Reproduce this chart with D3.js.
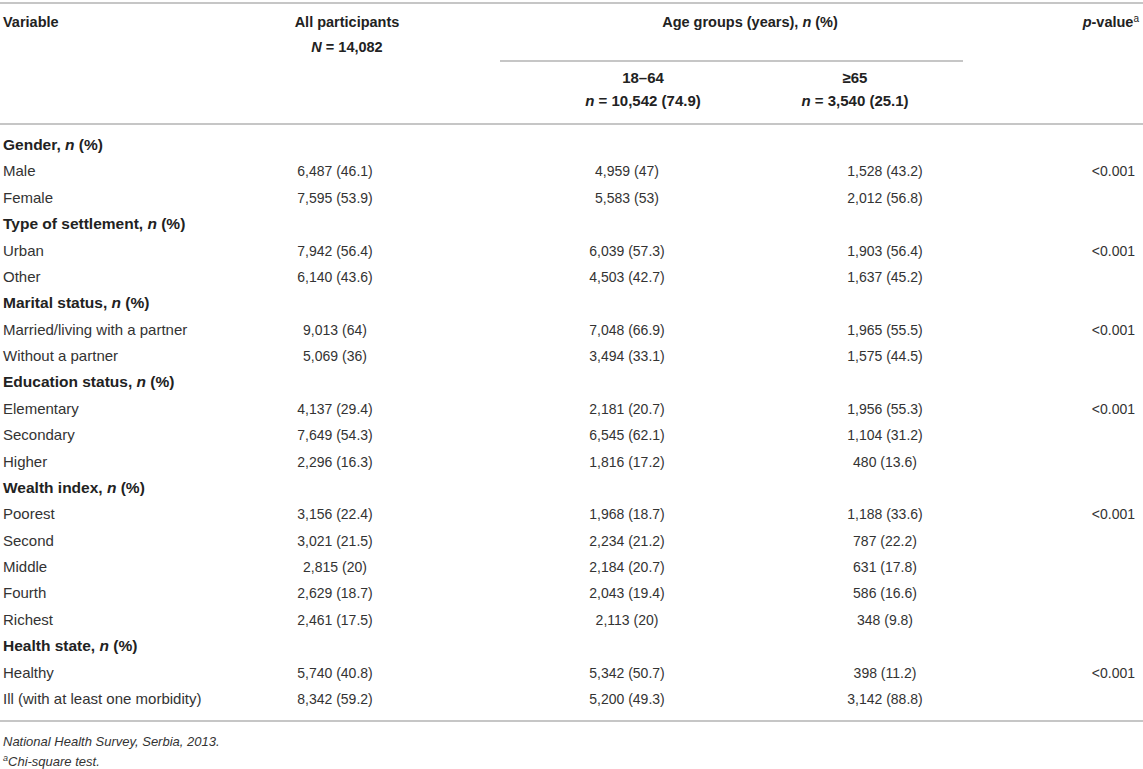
<!DOCTYPE html>
<html>
<head>
<meta charset="utf-8">
<script src="https://cdn.jsdelivr.net/npm/d3@7"></script>
<style>
  body { margin: 0; background: #fff; }
  svg { display: block; font-family: "Liberation Sans", Arial, Helvetica, sans-serif; }
  .rule { stroke: #b3b3b3; stroke-width: 1.5; }
  .head { font-weight: bold; fill: #222; font-size: 14.5px; }
  .sub { font-size: 15px; }
  .glab { font-weight: bold; fill: #222; font-size: 15.5px; }
  .lab { fill: #333; font-size: 15px; }
  .cell { fill: #333; font-size: 14px; }
  .note { fill: #333; font-size: 13px; font-style: italic; }
</style>
</head>
<body>
<div id="chart"></div>
<script>
// groups of variables and their categories
const groups = ["Gender", "Type of settlement", "Marital status", "Education status", "Wealth index", "Health state"];
const categories = [
  ["Male", "Female"],
  ["Urban", "Other"],
  ["Married/living with a partner", "Without a partner"],
  ["Elementary", "Secondary", "Higher"],
  ["Poorest", "Second", "Middle", "Fourth", "Richest"],
  ["Healthy", "Ill (with at least one morbidity)"]
];

// all participants N = 14,082
const allN   = [6487, 7595, 7942, 6140, 9013, 5069, 4137, 7649, 2296, 3156, 3021, 2815, 2629, 2461, 5740, 8342];
const allPct = [46.1, 53.9, 56.4, 43.6, 64, 36, 29.4, 54.3, 16.3, 22.4, 21.5, 20, 18.7, 17.5, 40.8, 59.2];
// 18-64 years
const youngN   = [4959, 5583, 6039, 4503, 7048, 3494, 2181, 6545, 1816, 1968, 2234, 2184, 2043, 2113, 5342, 5200];
const youngPct = [47, 53, 57.3, 42.7, 66.9, 33.1, 20.7, 62.1, 17.2, 18.7, 21.2, 20.7, 19.4, 20, 50.7, 49.3];
// >=65 years
const oldN   = [1528, 2012, 1903, 1637, 1965, 1575, 1956, 1104, 480, 1188, 787, 631, 586, 348, 398, 3142];
const oldPct = [43.2, 56.8, 56.4, 45.2, 55.5, 44.5, 55.3, 31.2, 13.6, 33.6, 22.2, 17.8, 16.6, 9.8, 11.2, 88.8];
// chi-square p-value, one per group
const pValues = ["<0.001", "<0.001", "<0.001", "<0.001", "<0.001", "<0.001"];

const colKeys = ["var", "all", "young", "old", "p"];

const width = 1143, height = 769;

const svg = d3.select("#chart").append("svg")
    .attr("width", width)
    .attr("height", height);

// flatten groups + categories into table rows
let rows = [];
let k = 0;
groups.forEach((g, gi) => {
    rows.push({type: "group", label: g, group: gi});
    categories[gi].forEach((c, ci) => {
        rows.push({
            type: "cat", label: c, group: gi, first: ci === 0,
            all: allN[k], allP: allPct[k],
            young: youngN[k], youngP: youngPct[k],
            old: oldN[k], oldP: oldPct[k]
        });
        k++;
    });
});

// scales
const y = d3.scalePoint()
    .domain(d3.range(rows.length))
    .range([145, 699]);

// cell centres for the value columns
const x = d3.scaleOrdinal()
    .domain(colKeys)
    .range([3, 335, 627, 885, 1135]);

// header centres
const hx = d3.scaleOrdinal()
    .domain(colKeys)
    .range([3, 347, 643, 855, 1139]);

const fmt = d3.format(",");
const cellText = (n, p) => fmt(n) + " (" + p + ")";

// rules
const rules = [
    {x1: 0, x2: width, y: 3},
    {x1: 500, x2: 963, y: 61},
    {x1: 0, x2: width, y: 124},
    {x1: 0, x2: width, y: 721}
];
svg.selectAll("line.rule")
    .data(rules)
    .enter()
    .append("line")
    .attr("class", "rule")
    .attr("x1", d => d.x1)
    .attr("x2", d => d.x2)
    .attr("y1", d => d.y)
    .attr("y2", d => d.y);

// header
let header = svg.append("g").attr("class", "header");

header.append("text").attr("class", "head")
    .attr("x", hx("var")).attr("y", 27)
    .text("Variable");

header.append("text").attr("class", "head")
    .attr("x", hx("all")).attr("y", 27).attr("text-anchor", "middle")
    .text("All participants");

let nAll = header.append("text").attr("class", "head")
    .attr("x", hx("all")).attr("y", 52).attr("text-anchor", "middle");
nAll.append("tspan").attr("font-style", "italic").text("N");
nAll.append("tspan").text(" = 14,082");

let age = header.append("text").attr("class", "head")
    .attr("x", 750).attr("y", 27).attr("text-anchor", "middle");
age.append("tspan").text("Age groups (years), ");
age.append("tspan").attr("font-style", "italic").text("n");
age.append("tspan").text(" (%)");

let pv = header.append("text").attr("class", "head")
    .attr("x", hx("p")).attr("y", 27).attr("text-anchor", "end");
pv.append("tspan").attr("font-style", "italic").text("p");
pv.append("tspan").text("-value");
pv.append("tspan").attr("font-size", "10px").attr("font-weight", "normal").attr("dy", -5).text("a");

const subHeads = [
    {key: "young", age: "18\u201364", n: "10,542 (74.9)"},
    {key: "old", age: "\u226565", n: "3,540 (25.1)"}
];
subHeads.forEach(s => {
    header.append("text").attr("class", "head sub")
        .attr("x", hx(s.key)).attr("y", 83).attr("text-anchor", "middle")
        .text(s.age);
    let t = header.append("text").attr("class", "head sub")
        .attr("x", hx(s.key)).attr("y", 106).attr("text-anchor", "middle");
    t.append("tspan").attr("font-style", "italic").text("n");
    t.append("tspan").text(" = " + s.n);
});

// body rows
let body = svg.append("g").attr("class", "body");

let rowG = body.selectAll("g.row")
    .data(rows)
    .enter()
    .append("g")
    .attr("class", "row")
    .attr("transform", (d, i) => "translate(0," + (y(i) + 5) + ")");

// group labels
let gl = rowG.filter(d => d.type === "group")
    .append("text")
    .attr("class", "glab")
    .attr("x", x("var"));
gl.append("tspan").text(d => d.label + ", ");
gl.append("tspan").attr("font-style", "italic").text("n");
gl.append("tspan").text(" (%)");

// category rows
let cats = rowG.filter(d => d.type === "cat");

cats.append("text").attr("class", "lab")
    .attr("x", x("var"))
    .text(d => d.label);

cats.append("text").attr("class", "cell")
    .attr("x", x("all")).attr("text-anchor", "middle")
    .text(d => cellText(d.all, d.allP));

cats.append("text").attr("class", "cell")
    .attr("x", x("young")).attr("text-anchor", "middle")
    .text(d => cellText(d.young, d.youngP));

cats.append("text").attr("class", "cell")
    .attr("x", x("old")).attr("text-anchor", "middle")
    .text(d => cellText(d.old, d.oldP));

cats.filter(d => d.first)
    .append("text").attr("class", "cell")
    .attr("x", x("p")).attr("text-anchor", "end")
    .text(d => pValues[d.group]);

// footnotes
svg.append("text").attr("class", "note")
    .attr("x", 3).attr("y", 746)
    .text("National Health Survey, Serbia, 2013.");

let fn = svg.append("text").attr("class", "note")
    .attr("x", 3).attr("y", 766);
fn.append("tspan").attr("font-size", "9px").attr("dy", -5).text("a");
fn.append("tspan").attr("dy", 5).text("Chi-square test.");
</script>
</body>
</html>
